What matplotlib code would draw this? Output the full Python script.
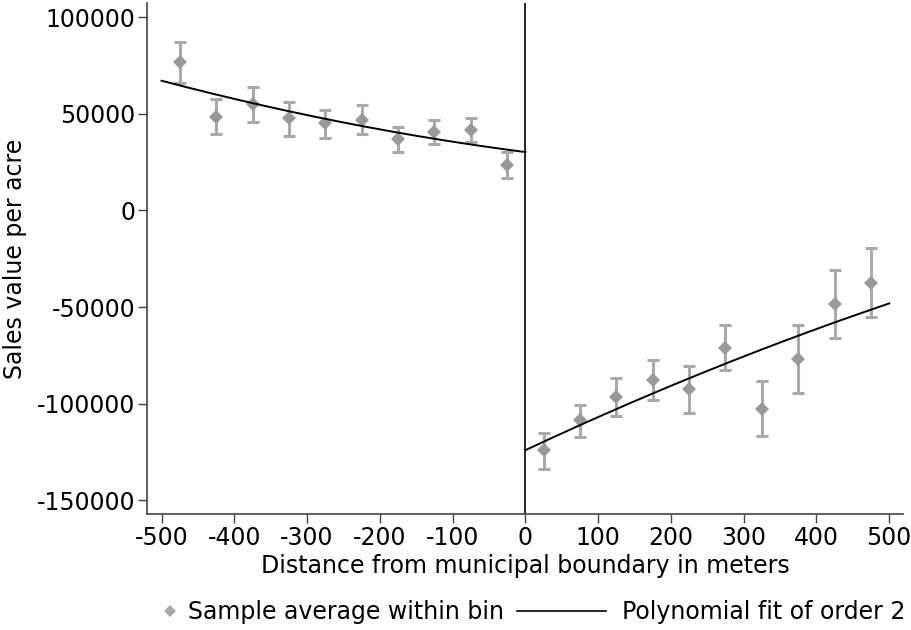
import numpy as np
import matplotlib
matplotlib.use("Agg")
import matplotlib.pyplot as plt
from matplotlib.lines import Line2D

plt.rcParams["font.family"] = ["DejaVu Sans"]
plt.rcParams["axes.unicode_minus"] = False

# Bin midpoints (meters from the municipal boundary)
bins_left = [-475, -425, -375, -325, -275, -225, -175, -125, -75, -25]
bins_right = [25, 75, 125, 175, 225, 275, 325, 375, 425, 475]

# Sample averages within each bin and their confidence bounds
mean_left = [76600, 48400, 55000, 47600, 45000, 47000, 36800, 40600, 41500, 23700]
low_left = [66000, 39400, 45600, 38700, 37300, 39400, 30100, 34200, 35300, 16800]
high_left = [87000, 57400, 63600, 56000, 52200, 54300, 43400, 47000, 47900, 30100]

mean_right = [-124100, -108600, -96500, -87700, -92500, -71100, -102500, -76900, -48400, -37500]
low_right = [-133500, -117200, -106300, -98200, -104900, -82500, -116700, -94600, -65900, -55000]
high_right = [-115300, -100500, -86800, -77400, -80600, -59300, -88300, -59300, -30800, -19500]

# Quadratic fit coefficients (constant, linear, quadratic) on each side
fit_left = [30200, -48.6, 0.0504]
fit_right = [-124000, 176.2, -0.0488]

xticks = [-500, -400, -300, -200, -100, 0, 100, 200, 300, 400, 500]
yticks = [-150000, -100000, -50000, 0, 50000, 100000]

FS = 17
err_col = "#aaaaaa"
pt_col = "#999999"

fig = plt.figure(figsize=(9.12, 6.30), dpi=100)
ax = fig.add_axes([147 / 912, 116 / 630, (903 - 147) / 912, (627 - 116) / 630])

for xs, m, lo, hi in [(bins_left, mean_left, low_left, high_left),
                      (bins_right, mean_right, low_right, high_right)]:
    m = np.asarray(m, float)
    yerr = np.vstack([m - np.asarray(lo, float), np.asarray(hi, float) - m])
    ax.errorbar(xs, m, yerr=yerr, fmt="none", ecolor=err_col,
                elinewidth=2.2, capsize=4.3, capthick=2.2, zorder=2)
    ax.plot(xs, m, linestyle="none", marker="D", markersize=7.2,
            color=pt_col, markeredgewidth=0, zorder=3)

xl = np.linspace(-500, 0, 200)
xr = np.linspace(0, 500, 200)
yl = fit_left[0] + fit_left[1] * xl + fit_left[2] * xl ** 2
yr = fit_right[0] + fit_right[1] * xr + fit_right[2] * xr ** 2
ax.plot(xl, yl, color="black", linewidth=1.4, zorder=4)
ax.plot(xr, yr, color="black", linewidth=1.4, zorder=4)

ax.axvline(0, color="black", linewidth=1.2, zorder=1)

ax.set_xlim(-520, 519)
ax.set_ylim(-157000, 107300)
ax.set_xticks(xticks)
ax.set_xticklabels([str(t) for t in xticks])
ax.set_yticks(yticks)
ax.set_yticklabels([str(t) for t in yticks])

for s in ["top", "right"]:
    ax.spines[s].set_visible(False)
for s in ["left", "bottom"]:
    ax.spines[s].set_color("#444444")
    ax.spines[s].set_linewidth(1.2)
ax.tick_params(axis="both", direction="out", length=6.5, width=1.0,
               color="#444444", labelsize=FS, pad=2)

ax.set_xlabel("Distance from municipal boundary in meters", fontsize=FS, labelpad=3)
ax.set_ylabel("Sales value per acre", fontsize=FS, labelpad=7)

h1 = Line2D([], [], linestyle="none", marker="D", markersize=6,
            color="#aaaaaa", markeredgewidth=0)
h2 = Line2D([], [], color="black", linewidth=1.2)
fig.legend([h1], ["Sample average within bin"], loc="center left",
           bbox_to_anchor=(160.5 / 912, 18 / 630), frameon=False, fontsize=FS,
           handlelength=0.8, handletextpad=0.36, borderpad=0, borderaxespad=0)
fig.legend([h2], ["Polynomial fit of order 2"], loc="center left",
           bbox_to_anchor=(517 / 912, 18 / 630), frameon=False, fontsize=FS,
           handlelength=3.77, handletextpad=0.68, borderpad=0, borderaxespad=0)

fig.savefig("out.png", dpi=100)
